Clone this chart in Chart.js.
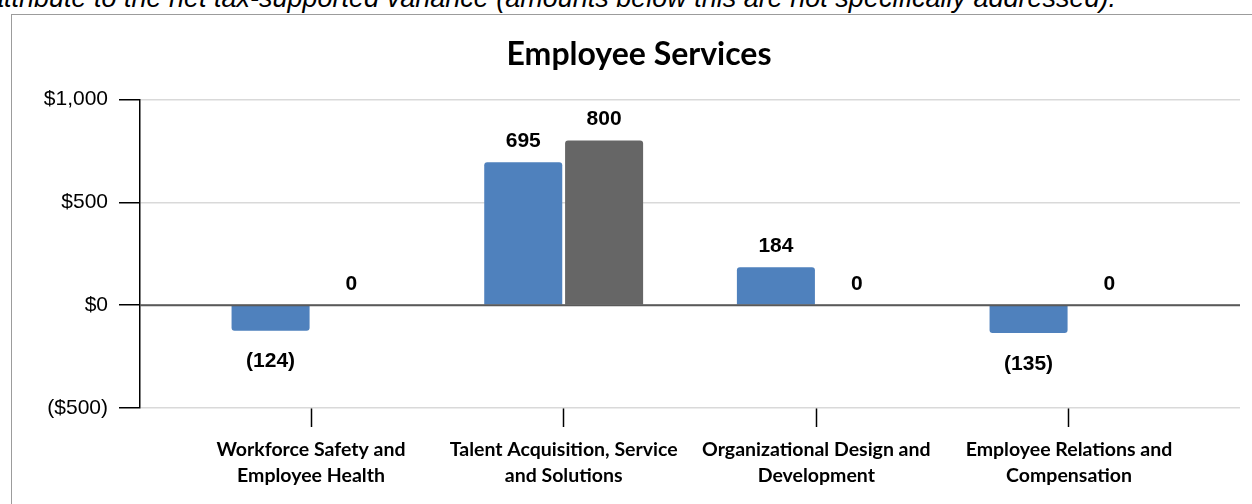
<!DOCTYPE html>
<html>
<head>
<meta charset="utf-8">
<script src="https://cdn.jsdelivr.net/npm/chart.js@4.4.1/dist/chart.umd.min.js"></script>
<style>
  html, body { margin: 0; padding: 0; background: #fff; }
  body { width: 1252px; height: 504px; position: relative; overflow: hidden; }
  .note {
    position: absolute; right: 136px; top: -15px;
    font: italic 27px 'Liberation Sans', Arial, sans-serif;
    line-height: 27px; white-space: nowrap; color: #000;
  }
  .frame {
    position: absolute; left: 11px; top: 14px; width: 1300px; height: 600px;
    border-left: 1px solid #9c9c9c; border-top: 1px solid #9c9c9c;
  }
  .chart-box { position: absolute; left: 0; top: 0; width: 1252px; height: 504px; }
</style>
</head>
<body>
<div class="note">attribute to the net tax-supported variance (amounts below this are not specifically addressed).</div>
<div class="frame"></div>
<div class="chart-box"><canvas id="chart"></canvas></div>
<script>
// categories, two lines each
const categories = [
    ['Workforce Safety and', 'Employee Health'],
    ['Talent Acquisition, Service', 'and Solutions'],
    ['Organizational Design and', 'Development'],
    ['Employee Relations and', 'Compensation']
];
const seriesA = [-124, 695, 184, -135];
const seriesB = [0, 800, 0, 0];
const yTicks = [-500, 0, 500, 1000];

const BLUE = '#4f81bd';
const GRAY = '#666666';

const toPoints = (arr) => arr.map((v, i) => ({ x: i + 1, y: v }));

const fmtMoney = (v) => v < 0
    ? '($' + Math.abs(v).toLocaleString('en-US') + ')'
    : '$' + v.toLocaleString('en-US');

// zero line over the bars + value labels
const valueLabels = {
    id: 'valueLabels',
    afterDatasetsDraw(chart) {
        const ctx = chart.ctx;
        const area = chart.chartArea;
        const y0 = chart.scales.y.getPixelForValue(0);
        ctx.save();
        ctx.strokeStyle = '#595959';
        ctx.lineWidth = 2;
        ctx.beginPath();
        ctx.moveTo(area.left, y0);
        ctx.lineTo(area.right, y0);
        ctx.stroke();

        ctx.font = 'bold 21px "Liberation Sans", Arial, sans-serif';
        ctx.fillStyle = '#000';
        ctx.textAlign = 'center';
        ctx.textBaseline = 'middle';
        chart.data.datasets.forEach((ds, i) => {
            chart.getDatasetMeta(i).data.forEach((bar, j) => {
                const v = ds.data[j].y;
                const text = v < 0 ? '(' + Math.abs(v) + ')' : String(v);
                ctx.fillText(text, bar.x, v < 0 ? bar.y + 31 : bar.y - 21);
            });
        });
        ctx.restore();
    }
};

new Chart(document.getElementById('chart').getContext('2d'), {
    type: 'bar',
    plugins: [valueLabels],
    data: {
        datasets: [
            {
                label: 'Series 1',
                data: toPoints(seriesA),
                backgroundColor: BLUE,
                borderRadius: 3,
                categoryPercentage: 0.64,
                barPercentage: 0.965
            },
            {
                label: 'Series 2',
                data: toPoints(seriesB),
                backgroundColor: GRAY,
                borderRadius: 3,
                categoryPercentage: 0.64,
                barPercentage: 0.965
            }
        ]
    },
    options: {
        responsive: true,
        maintainAspectRatio: false,
        animation: false,
        // left padding keeps the title centred on the framed box
        layout: { padding: { left: 38, right: 12, top: 0, bottom: 0 } },
        plugins: {
            legend: { display: false },
            tooltip: { enabled: false },
            title: {
                display: true,
                text: 'Employee Services',
                color: '#000',
                font: { family: 'Lato', weight: 'bold', size: 32, lineHeight: 1.2 },
                padding: { top: 35, bottom: 26 }
            }
        },
        scales: {
            x: {
                type: 'linear',
                offset: false,
                min: 0.3232,
                max: 4.6768,
                afterBuildTicks: (scale) => {
                    scale.ticks = categories.map((c, i) => ({ value: i + 1 }));
                },
                afterFit: (scale) => { scale.height = 96; },
                border: { display: false },
                grid: {
                    offset: false,
                    drawOnChartArea: false,
                    drawTicks: true,
                    tickLength: 19,
                    tickColor: '#000',
                    tickWidth: 1.5
                },
                ticks: {
                    autoSkip: false,
                    maxRotation: 0,
                    padding: 10,
                    color: '#000',
                    font: { family: 'Lato', weight: 'bold', size: 19.5, lineHeight: '26px' },
                    callback: (v) => categories[v - 1]
                }
            },
            y: {
                min: yTicks[0],
                max: yTicks[yTicks.length - 1],
                afterBuildTicks: (scale) => {
                    scale.ticks = yTicks.map((v) => ({ value: v }));
                },
                afterFit: (scale) => { scale.width = 102; },
                border: { display: true, color: '#000', width: 1.5 },
                grid: {
                    color: '#d9d9d9',
                    lineWidth: 1.5,
                    drawTicks: true,
                    tickLength: 21,
                    tickColor: '#000',
                    tickWidth: 1.5
                },
                ticks: {
                    padding: 11,
                    color: '#000',
                    font: { family: '"Liberation Sans", Arial, sans-serif', size: 21 },
                    callback: (v) => fmtMoney(v)
                }
            }
        }
    }
});
</script>
</body>
</html>
